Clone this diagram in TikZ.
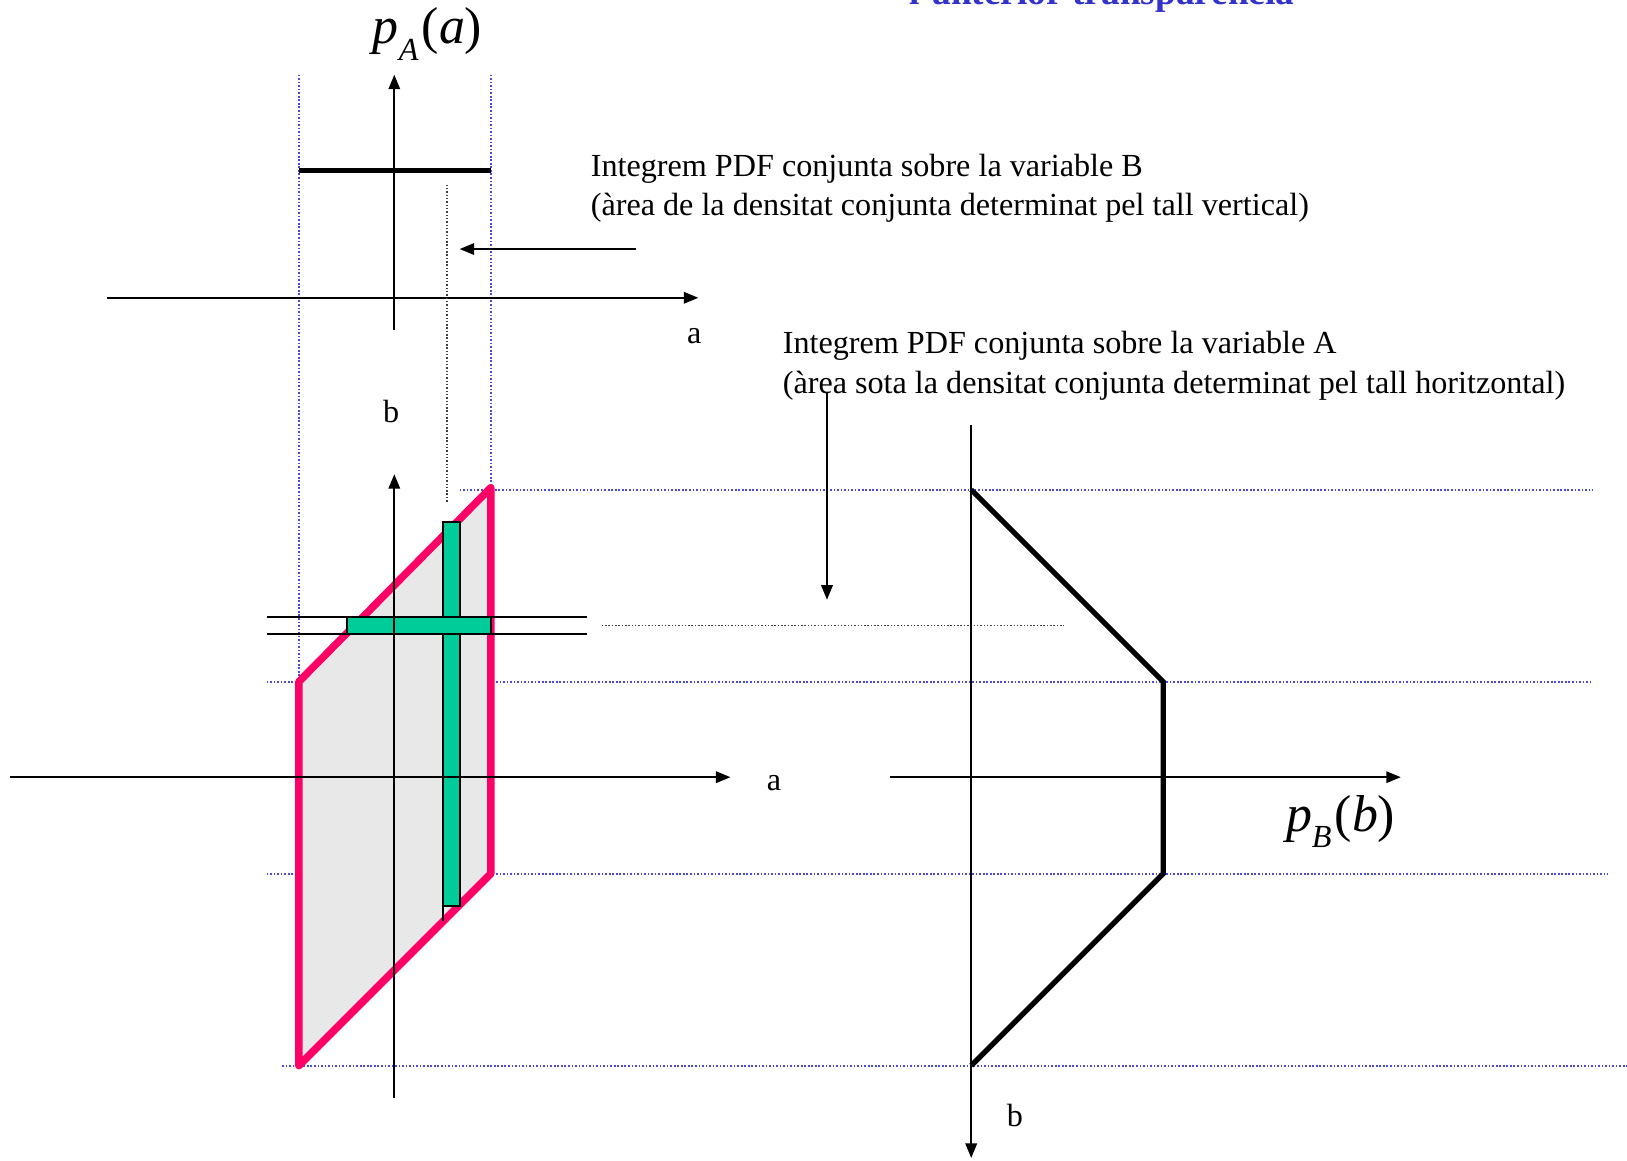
\documentclass[tikz,border=0pt]{standalone}
\usepackage{fontspec}
\setmainfont{Liberation Serif}
\usetikzlibrary{arrows.meta}
\definecolor{ink}{HTML}{000000}
\definecolor{guide}{HTML}{4B4BD8}
\definecolor{edge}{HTML}{FF0066}
\definecolor{shade}{HTML}{E8E8E8}
\definecolor{strip}{HTML}{00CC99}
\definecolor{title}{HTML}{3333CC}
\tikzset{
  every node/.style = {text=ink, inner sep=0pt},
  jdaxis/.style  = {-{Triangle[length=7pt,width=5.5pt]}, draw=ink, line width=1pt},
  jdguide/.style = {draw=guide, line width=0.85pt, dash pattern=on 0.8pt off 0.9pt},
  jdcut/.style   = {draw=ink!75, line width=0.75pt, dash pattern=on 0.7pt off 0.9pt},
  jdjoint/.style = {draw=edge, fill=shade, line width=3.6pt, line join=round},
  jdmarg/.style  = {draw=ink, line width=2.5pt, line join=miter},
  jdstrip/.style = {draw=ink, fill=strip, line width=0.9pt},
  jdrule/.style  = {draw=ink, line width=1pt},
  jdnote/.style  = {font=\fontsize{15.5}{19}\selectfont, anchor=base west, align=left},
  jdlab/.style   = {font=\fontsize{15.5}{18}\selectfont, anchor=base},
  jdpdfl/.style  = {font=\fontsize{25}{29}\selectfont, anchor=base west},
  jdtitle/.style = {font=\fontsize{18}{21}\selectfont\bfseries, text=title, anchor=base},
}
\newcommand{\jdpdf}[2]{\textit{p}\raisebox{-0.32em}{\fontsize{15.5}{15.5}\selectfont\textit{#1}}\kern0.06em(\textit{#2})}

\begin{document}
\begin{tikzpicture}[x=0.5pt, y=-0.5pt]
\useasboundingbox (0,0) rectangle (1568,1118);
\clip (0,0) rectangle (1568,1118);

\node[jdtitle] (title) at (1062,4) {l'anterior transparència};

\coordinate (ja) at (288,657);
\coordinate (jb) at (473,470);
\coordinate (jc) at (473,842);
\coordinate (jd) at (288,1027);
\coordinate (ma) at (936,472);
\coordinate (mb) at (1121,657);
\coordinate (mc) at (1121,842);
\coordinate (md) at (936,1027);

\foreach \x in {288, 473}{\draw[jdguide] (\x,72) -- (\x,657);}
\draw[jdguide] (443,472) -- (1535,472);
\draw[jdguide] (257,657) -- (1535,657);
\draw[jdguide] (257,842) -- (1550,842);
\draw[jdguide] (272,1027) -- (1568,1027);

\draw[jdaxis] (103,287) -- (673,287);
\draw[jdaxis] (380,318) -- (380,72);
\draw[line width=2.5pt] (288,164) -- (473,164);
\draw[jdcut] (431,178) -- (431,484);
\node[jdpdfl] (pA) at (359,42) {\jdpdf{A}{a}};
\node[jdlab] (aTop) at (669,331) {a};
\node[jdlab] (bMid) at (377,407) {b};

\draw[jdjoint] (ja) -- (jb) -- (jc) -- (jd) -- cycle;
\draw[jdstrip] (427,503) rectangle (443,873);
\draw[jdrule] (427,873) -- (427,888);
\draw[jdstrip] (334,595) rectangle (473,611);
\draw[jdrule] (257,595) -- (566,595);
\draw[jdrule] (257,611) -- (566,611);
\draw[jdcut] (580,603) -- (1025,603);
\draw[jdaxis] (10,749) -- (704,749);
\draw[jdaxis] (380,1058) -- (380,457);
\node[jdlab] (aBot) at (746,762) {a};

\draw[jdaxis] (858,749) -- (1350,749);
\draw[jdaxis] (936,410) -- (936,1116);
\draw[jdmarg] (ma) -- (mb) -- (mc) -- (md);
\node[jdpdfl] (pB) at (1239,801) {\jdpdf{B}{b}};
\node[jdlab] (bRight) at (978,1086) {b};

\node[jdnote] (noteB) at (569,208)
  {Integrem PDF conjunta sobre la variable B\\(àrea de la densitat conjunta determinat pel tall vertical)};
\node[jdnote] (noteA) at (754,379)
  {Integrem PDF conjunta sobre la variable A\\(àrea sota la densitat conjunta determinat pel tall horitzontal)};

\coordinate (fromB) at (613,240);
\coordinate (toB) at (443,240);
\coordinate (fromA) at (797,379);
\coordinate (toA) at (797,578);
\draw[jdaxis] (fromB) -- (toB);
\draw[jdaxis] (fromA) -- (toA);
\end{tikzpicture}
\end{document}
